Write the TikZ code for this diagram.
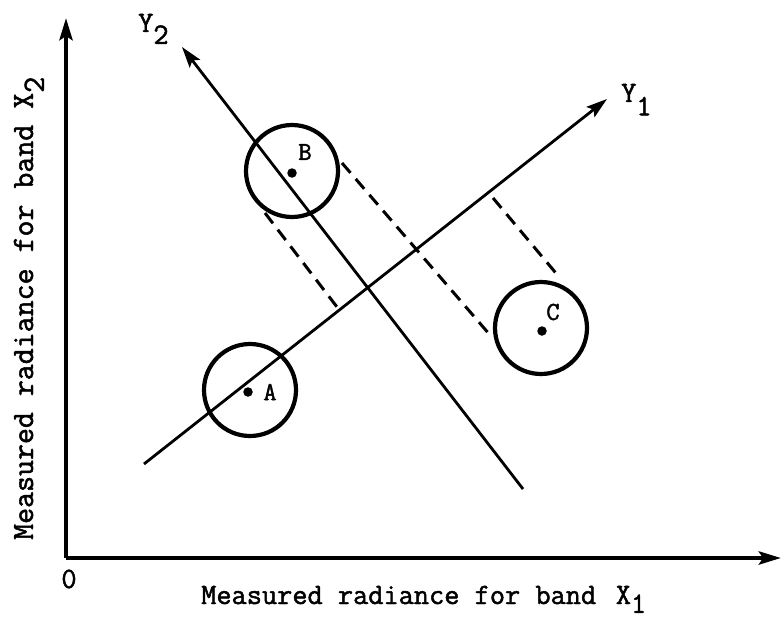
\documentclass[tikz,border=0pt]{standalone}
\usepackage{fontspec}
\newfontfamily\tw{Latin Modern Mono}[FakeBold=1.6]
\usetikzlibrary{arrows.meta}
\begin{document}
\begin{tikzpicture}[x=1pt,y=-1pt,
  axisline/.style={line width=4.4pt,-{Stealth[length=22pt,width=13pt,inset=4pt]}},
  projarrow/.style={line width=2.8pt,-{Stealth[length=21pt,width=13pt,inset=4pt]}},
  ring/.style={circle,draw,line width=4.2pt,minimum size=92pt,inner sep=0pt},
  pt/.style={circle,fill,inner sep=0pt,minimum size=9.5pt},
  dashline/.style={line width=3pt,dash pattern=on 13pt off 8pt},
  lbl/.style={font=\tw\fontsize{29.5}{32}\selectfont,inner sep=0pt},
  ptlbl/.style={font=\tw\fontsize{26}{28}\selectfont,inner sep=0pt}]
\useasboundingbox (0,0) rectangle (783,623);
% axes
\coordinate (O) at (66,558);
\coordinate (Xend) at (781,558);
\coordinate (Ytop) at (66,18);
\draw[axisline] (O) -- (Ytop);
\draw[axisline] (O) -- (Xend);
\node[lbl,anchor=center] (zero) at (69,579) {0};
\node[lbl,anchor=base west] (xlab) at (201,604) {Measured radiance for band\ \kern0.15em X\raisebox{-0.3em}{1}};
\node[font=\tw\fontsize{31}{34}\selectfont,inner sep=0pt,anchor=base west,rotate=90] (ylab) at (33,540) {Measured radiance for band\ X\raisebox{-0.35em}{2}};
% rotated axes
\coordinate (Y1s) at (144,464);
\coordinate (Y1e) at (607,99);
\coordinate (Y2s) at (523,489);
\coordinate (Y2e) at (182,47);
\draw[projarrow] (Y1s) -- (Y1e);
\draw[projarrow] (Y2s) -- (Y2e);
\node[lbl,anchor=base west] (y1lab) at (621,102) {Y\raisebox{-0.45em}{1}};
\node[lbl,anchor=base west] (y2lab) at (138,32) {Y\raisebox{-0.4em}{2}};
% clusters
\node[ring] (cA) at (250,390) {};
\node[ring] (cB) at (292,171) {};
\node[ring] (cC) at (541,328) {};
\node[pt] (pA) at (248,392) {};
\node[pt] (pB) at (292,173) {};
\node[pt] (pC) at (542,331) {};
\node[ptlbl] (lA) at (270,392) {A};
\node[ptlbl] (lB) at (305,152) {B};
\node[ptlbl] (lC) at (553,312) {C};
% dashed projections
\coordinate (d1a) at (265,213);
\coordinate (d1b) at (337,307);
\coordinate (d2a) at (342,163);
\coordinate (d2b) at (490,335);
\coordinate (d3a) at (493,198);
\coordinate (d3b) at (560,278);
\draw[dashline] (d1a) -- (d1b);
\draw[dashline] (d2a) -- (d2b);
\draw[dashline] (d3a) -- (d3b);
\end{tikzpicture}
\end{document}
